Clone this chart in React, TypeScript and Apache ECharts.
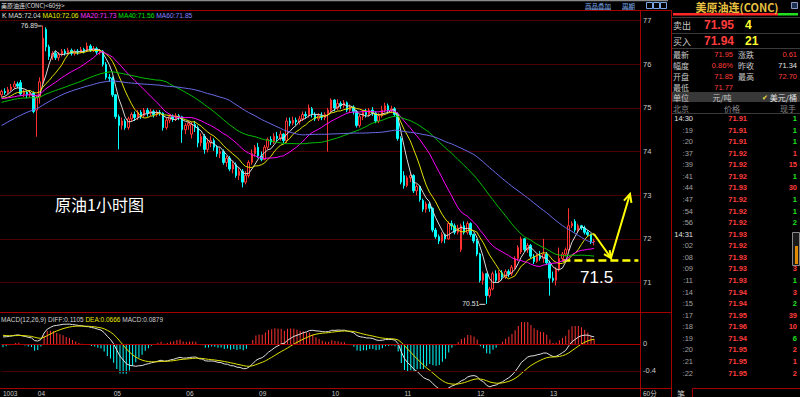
import React, { useEffect, useRef } from 'react';
import * as echarts from 'echarts';

// ---------------- data ----------------
const HEADER_TITLE = '美原油连(CONC)<60分>';
const PANEL_TITLE = '美原油连(CONC)';
const KLINE_LEGEND = ['K', 'MA5:72.04', 'MA10:72.06', 'MA20:71.73', 'MA40:71.56', 'MA60:71.85'];
const MACD_LEGEND = ['MACD(12,26,9) DIFF:0.1105', 'DEA:0.0666', 'MACD:0.0879'];
const MA_PERIODS = [5, 10, 20, 40, 60];

// closes before the first visible bar (needed for the moving averages / MACD)
const PRIOR_CLOSES = [
  72.9, 73.0, 72.95, 73.1, 73.2, 73.15, 73.3, 73.25, 73.4, 73.5,
  73.45, 73.6, 73.55, 73.7, 73.75, 73.8, 73.7, 73.9, 74.0, 74.1,
  74.4, 74.6, 74.7, 74.8, 74.9, 75.0, 74.95, 75.1, 75.2, 75.1,
  75.05, 75.2, 75.15, 75.1, 75.0, 75.05, 75.1, 75.2, 75.15, 75.25,
  75.3, 75.2, 75.15, 75.25, 75.3, 75.2, 75.1, 75.15, 75.2, 75.25,
  75.2, 75.3, 75.25, 75.15, 75.1, 75.2, 75.25, 75.2, 75.15, 75.25,
];

// hourly bars: [open, close, low, high]
const BARS: number[][] = [
  [75.30, 75.38, 75.25, 75.42], [75.38, 75.35, 75.30, 75.45], [75.35, 75.42, 75.32, 75.48], [75.42, 75.48, 75.38, 75.55],
  [75.48, 75.55, 75.44, 75.62], [75.55, 75.50, 75.45, 75.60], [75.58, 75.32, 75.28, 75.64], [75.32, 75.36, 75.25, 75.42],
  [75.36, 75.30, 75.22, 75.40], [75.30, 75.34, 75.24, 75.40], [75.34, 74.92, 74.88, 75.38], [74.95, 75.25, 74.34, 75.30],
  [75.25, 75.60, 75.10, 75.70], [75.60, 76.60, 75.50, 76.89], [76.80, 76.40, 76.30, 76.85], [76.40, 76.18, 76.10, 76.45],
  [76.18, 76.25, 76.10, 76.30], [76.25, 76.15, 76.10, 76.30], [76.15, 76.22, 76.08, 76.28], [76.22, 76.30, 76.18, 76.35],
  [76.30, 76.26, 76.20, 76.35], [76.26, 76.32, 76.22, 76.38], [76.32, 76.25, 76.20, 76.36], [76.25, 76.30, 76.20, 76.34],
  [76.30, 76.28, 76.22, 76.35], [76.28, 76.34, 76.25, 76.40], [76.34, 76.30, 76.25, 76.38], [76.30, 76.42, 76.28, 76.50],
  [76.42, 76.32, 76.28, 76.46], [76.32, 76.36, 76.28, 76.42], [76.36, 76.28, 76.22, 76.40], [76.28, 76.30, 76.22, 76.35],
  [76.30, 76.00, 75.95, 76.33], [76.00, 75.70, 75.65, 76.05], [75.70, 75.68, 75.60, 75.78], [75.68, 75.30, 75.25, 75.72],
  [75.30, 74.80, 74.75, 75.32], [74.80, 74.60, 74.05, 74.85], [74.60, 74.70, 74.50, 74.78], [74.70, 74.55, 74.50, 74.75],
  [74.55, 74.75, 74.50, 74.80], [74.75, 74.85, 74.68, 74.90], [74.85, 74.78, 74.70, 74.92], [74.78, 74.90, 74.72, 74.95],
  [74.90, 74.82, 74.75, 74.95], [74.82, 74.95, 74.78, 75.00], [74.95, 74.88, 74.80, 75.00], [74.88, 74.92, 74.82, 74.98],
  [74.92, 74.85, 74.78, 74.96], [74.85, 74.90, 74.80, 74.95], [74.90, 74.88, 74.82, 74.95], [74.88, 74.55, 74.48, 74.90],
  [74.55, 74.72, 74.50, 74.78], [74.72, 74.80, 74.65, 74.85], [74.80, 74.75, 74.68, 74.85], [74.75, 74.82, 74.70, 74.88],
  [74.82, 74.80, 74.72, 74.86], [74.80, 74.50, 74.20, 74.82], [74.50, 74.60, 74.40, 74.65], [74.60, 74.65, 74.50, 74.70],
  [74.40, 74.62, 74.30, 74.68], [74.62, 74.55, 74.45, 74.70], [74.55, 74.20, 74.10, 74.60], [74.20, 74.35, 74.12, 74.42],
  [74.35, 74.05, 73.95, 74.40], [74.05, 74.20, 73.98, 74.30], [74.20, 74.25, 74.10, 74.35], [74.25, 74.10, 74.02, 74.30],
  [74.10, 73.95, 73.88, 74.15], [73.95, 74.00, 73.85, 74.08], [74.00, 73.75, 73.70, 74.05], [73.75, 73.85, 73.65, 73.90],
  [73.85, 73.60, 73.55, 73.90], [73.60, 73.70, 73.50, 73.78], [73.70, 73.45, 73.40, 73.75], [73.45, 73.55, 73.35, 73.62],
  [73.55, 73.30, 73.18, 73.60], [73.30, 73.45, 73.25, 73.55], [73.45, 73.75, 73.40, 73.80], [73.75, 73.95, 73.70, 74.05],
  [73.95, 74.10, 73.88, 74.15], [74.10, 73.90, 73.85, 74.20], [73.90, 73.82, 73.78, 74.00], [73.82, 74.10, 73.80, 74.15],
  [74.10, 74.28, 74.05, 74.32], [74.28, 74.22, 74.15, 74.35], [74.22, 74.35, 74.18, 74.42], [74.35, 74.30, 74.22, 74.45],
  [74.30, 74.40, 74.25, 74.48], [74.40, 74.25, 74.20, 74.42], [74.25, 74.70, 74.20, 74.78], [74.70, 74.65, 74.58, 74.78],
  [74.65, 74.72, 74.60, 74.80], [74.72, 74.68, 74.60, 74.78], [74.68, 74.75, 74.62, 74.82], [74.75, 74.85, 74.70, 74.92],
  [74.85, 74.82, 74.75, 74.92], [74.82, 75.00, 74.78, 75.08], [74.98, 74.85, 74.78, 75.02], [74.85, 74.75, 74.70, 74.90],
  [74.75, 74.82, 74.70, 74.88], [74.82, 74.78, 74.72, 74.90], [74.78, 74.85, 74.72, 74.90], [74.85, 74.95, 74.00, 75.00],
  [74.95, 75.18, 74.90, 75.22], [75.18, 75.00, 74.92, 75.20], [75.00, 75.10, 74.95, 75.20], [75.10, 75.05, 74.98, 75.15],
  [75.05, 75.12, 75.00, 75.18], [75.12, 74.95, 74.90, 75.15], [74.95, 75.02, 74.90, 75.08], [75.02, 74.92, 74.85, 75.06],
  [74.92, 74.60, 74.55, 74.95], [74.60, 74.80, 74.55, 74.85], [74.80, 74.90, 74.72, 74.95], [74.90, 74.85, 74.78, 74.98],
  [74.85, 74.95, 74.80, 75.00], [74.95, 74.88, 74.82, 75.02], [74.88, 74.70, 74.65, 74.92], [74.70, 74.82, 74.65, 74.88],
  [74.82, 74.95, 74.78, 75.05], [74.95, 75.05, 74.90, 75.12], [75.05, 74.95, 74.88, 75.10], [74.95, 74.98, 74.88, 75.05],
  [74.98, 74.85, 74.80, 75.02], [74.85, 74.30, 74.25, 74.90], [74.30, 73.30, 73.25, 74.35], [73.45, 73.22, 73.15, 73.55],
  [73.22, 73.40, 73.18, 73.45], [73.40, 73.45, 73.30, 73.50], [73.45, 73.10, 73.05, 73.48], [73.10, 73.20, 73.00, 73.25],
  [73.20, 72.90, 72.85, 73.22], [72.88, 72.68, 72.62, 72.92], [72.68, 72.80, 72.60, 72.85], [72.80, 72.70, 72.62, 72.85],
  [72.70, 72.20, 72.15, 72.72], [72.20, 72.05, 72.00, 72.25], [72.05, 71.95, 71.88, 72.10], [71.95, 72.10, 71.90, 72.15],
  [72.10, 72.00, 71.90, 72.12], [72.00, 72.35, 71.98, 72.40], [72.35, 72.30, 72.20, 72.42], [72.30, 72.15, 72.10, 72.35],
  [72.15, 72.25, 72.10, 72.32], [71.75, 72.30, 71.70, 72.35], [72.30, 72.15, 72.10, 72.40], [72.15, 72.35, 72.10, 72.40],
  [72.35, 72.10, 72.05, 72.38], [72.10, 71.95, 71.90, 72.12], [71.95, 71.65, 71.60, 72.00], [71.65, 71.05, 71.00, 71.68],
  [71.05, 71.20, 70.95, 71.25], [71.20, 70.70, 70.51, 71.22], [70.70, 70.85, 70.65, 70.90], [70.85, 71.20, 70.82, 71.25],
  [71.20, 71.05, 71.00, 71.28], [71.05, 71.22, 71.00, 71.28], [71.22, 71.12, 71.05, 71.28], [71.12, 71.25, 71.08, 71.30],
  [71.25, 71.20, 71.12, 71.30], [71.20, 71.35, 71.15, 71.40], [71.35, 71.55, 71.30, 71.60], [71.55, 71.80, 71.50, 71.85],
  [71.70, 72.00, 71.65, 72.05], [72.00, 71.75, 71.70, 72.02], [71.75, 71.85, 71.68, 71.90], [71.85, 71.60, 71.55, 71.88],
  [71.60, 71.48, 71.42, 71.65], [71.48, 71.60, 71.45, 71.65], [71.60, 71.55, 71.50, 71.72], [71.55, 71.65, 71.45, 72.00],
  [71.65, 71.45, 71.40, 71.70], [71.45, 71.10, 70.70, 71.50], [71.10, 71.05, 71.00, 71.25], [71.05, 71.30, 70.93, 71.35],
  [71.30, 71.55, 71.25, 71.80], [71.55, 71.65, 71.50, 71.70], [71.65, 71.75, 71.60, 71.80], [71.75, 72.30, 71.70, 72.70],
  [72.30, 72.35, 72.25, 72.40], [72.40, 72.20, 72.15, 72.45], [72.20, 72.30, 72.15, 72.35], [72.30, 72.25, 72.20, 72.32],
  [72.25, 72.15, 72.10, 72.30], [72.15, 72.10, 72.05, 72.20], [72.10, 71.93, 71.88, 72.12], [71.93, 71.95, 71.85, 72.00],
];

const DAY_INDEX = [0, 11, 35, 58, 81, 104, 127, 150, 173];
const DAY_TEXT = ['1003', '04', '05', '06', '09', '10', '11', '12', '13'];
const PERIOD_LABEL = '60分';
const PRICE_TICKS = [71, 72, 73, 74, 75, 76, 77];
const MACD_TICKS = [0, -0.4];
const SUPPORT_LEVEL = 71.5;
const SUPPORT_TEXT = '71.5';
const CHART_NOTE = '原油1小时图';

const ASK_ROW = ['卖出', '71.95', '4'];
const BID_ROW = ['买入', '71.94', '21'];
const QUOTE_ROWS = [
  ['最新', '71.95', '涨跌', '0.61'],
  ['幅度', '0.86%', '昨收', '71.34'],
  ['开盘', '71.85', '最高', '72.70'],
  ['最低', '71.77', '', ''],
];
const UNIT_ROW = ['单位', '元/吨', '✔', '美元/桶'];
const TRADE_HEADER = ['北京', '价格', '现手'];
const TRADE_TIMES = ['14:30', ':19', ':20', ':37', ':39', ':41', ':44', ':47', ':54', ':56', '14:31', ':02', ':08', ':09', ':11', ':14', ':15', ':17', ':18', ':19', ':20', ':21', ':22'];
const TRADE_PRICES = ['71.91', '71.91', '71.91', '71.92', '71.92', '71.92', '71.93', '71.92', '71.92', '71.92', '71.93', '71.92', '71.93', '71.93', '71.93', '71.94', '71.94', '71.95', '71.96', '71.94', '71.95', '71.95', '71.95'];
const TRADE_VOLS = ['1', '1', '1', '1', '15', '1', '30', '1', '1', '2', '', '', '', '3', '1', '3', '2', '39', '10', '6', '2', '1', '2'];
const TRADE_SIDES = ['b', 'b', 'b', 's', 's', 'b', 's', 'b', 'b', 'b', '', '', '', 's', 'b', 's', 'b', 's', 's', 'b', 's', 's', 's'];

// ---------------- styles ----------------
const FONT = '"Liberation Sans", Arial, "Noto Sans CJK SC", sans-serif';
const CJK = '"Noto Sans CJK SC", "Liberation Sans", sans-serif';
const RED = '#ff3232';
const CYAN = '#00ffff';
const FRAME = '#a80000';
const GRID_RED = '#4a0000';
const MA_COLORS = ['#d8d8d8', '#e0e000', '#ff00ff', '#00c000', '#6a6ae8'];
const LEGEND_COLORS = ['#e8e8e8', '#d8d8d8', '#e8e800', '#ff30ff', '#00e000', '#8080ff'];
const MACD_LEGEND_COLORS = ['#d0d0d0', '#e8e800', '#d0d0d0'];

const PLOT_W = 640;
const CAT_COUNT = BARS.length + 14;
const PRICE_MIN = 70.323;
const PRICE_MAX = 77.222;
const MACD_MIN = -0.652;
const MACD_MAX = 0.459;

function txt(x: number, y: number, text: string, fill: string, size: number, o: any = {}) {
  return {
    type: 'text', x, y, silent: true, z: 100,
    style: {
      text, fill, fontSize: size, fontFamily: o.font || FONT, fontWeight: o.bold ? 'bold' : 'normal',
      align: o.align || 'left', textAlign: o.align || 'left', verticalAlign: 'middle', textVerticalAlign: 'middle',
    },
  };
}
function richLine(x: number, y: number, parts: string[], colors: string[], size: number) {
  const rich: any = {};
  parts.forEach((_, i) => { rich['p' + i] = { fill: colors[i], color: colors[i], fontSize: size, fontFamily: FONT }; });
  return {
    type: 'text', x, y, silent: true, z: 100,
    style: {
      text: parts.map((p, i) => `{p${i}|${p}}`).join(' '),
      rich, fontSize: size, fontFamily: FONT, fill: colors[0],
      align: 'left', textAlign: 'left', verticalAlign: 'middle', textVerticalAlign: 'middle',
    },
  };
}
function ln(x1: number, y1: number, x2: number, y2: number, stroke: string, lw = 1, dash?: number[]) {
  return { type: 'line', silent: true, z: 90, shape: { x1, y1, x2, y2 }, style: { stroke, lineWidth: lw, lineDash: dash } };
}
function rc(x: number, y: number, w: number, h: number, fill: string, stroke?: string) {
  return { type: 'rect', silent: true, z: 80, shape: { x, y, width: w, height: h }, style: { fill, stroke, lineWidth: 1 } };
}
function arrowHead(tip: number[], from: number[], len: number, color: string) {
  const dx = tip[0] - from[0];
  const dy = tip[1] - from[1];
  const d = Math.hypot(dx, dy);
  const ux = dx / d, uy = dy / d;
  const a = Math.PI / 7;
  const w1 = [tip[0] - len * (ux * Math.cos(a) - uy * Math.sin(a)), tip[1] - len * (uy * Math.cos(a) + ux * Math.sin(a))];
  const w2 = [tip[0] - len * (ux * Math.cos(-a) - uy * Math.sin(-a)), tip[1] - len * (uy * Math.cos(-a) + ux * Math.sin(-a))];
  return { type: 'polyline', silent: true, z: 95, shape: { points: [w1, tip, w2] }, style: { stroke: color, lineWidth: 2, fill: null } };
}

// ---------------- indicators ----------------
const ALL_CLOSES = [...PRIOR_CLOSES, ...BARS.map((b) => b[1])];
const P = PRIOR_CLOSES.length;
function movingAverage(n: number) {
  return BARS.map((_, i) => {
    const end = P + i;
    let s = 0;
    for (let k = end - n + 1; k <= end; k++) s += ALL_CLOSES[k];
    return +(s / n).toFixed(3);
  });
}
function macd() {
  let e12 = ALL_CLOSES[0];
  let e26 = ALL_CLOSES[0];
  let dea = 0;
  const diff: number[] = [], deaArr: number[] = [], bar: number[] = [];
  ALL_CLOSES.forEach((c, k) => {
    if (k > 0) {
      e12 = (e12 * 11 + c * 2) / 13;
      e26 = (e26 * 25 + c * 2) / 27;
    }
    const d = e12 - e26;
    dea = (dea * 8 + d * 2) / 10;
    if (k >= P) {
      diff.push(+d.toFixed(4));
      deaArr.push(+dea.toFixed(4));
      bar.push(+(2 * (d - dea)).toFixed(4));
    }
  });
  return { diff, dea: deaArr, bar };
}

function staticGraphics() {
  const g: any[] = [];
  // header
  g.push(ln(0, 0.5, 668, 0.5, '#8a8a8a', 1.5));
  g.push(txt(1, 5.5, HEADER_TITLE, '#e0e0e0', 6, { font: CJK }));
  g.push(txt(585, 5.5, '商品叠加', '#7aa6e6', 6.5, { font: CJK }));
  g.push(ln(585, 9, 611, 9, '#7aa6e6', 0.8));
  g.push(txt(622, 5.5, '周期', '#7aa6e6', 6.5, { font: CJK }));
  g.push(ln(622, 9, 633, 9, '#7aa6e6', 0.8));
  [646, 653, 660].forEach((x) => g.push(rc(x + 0.5, 2.5, 6, 6, 'none', '#7aa6e6')));
  // frame lines
  g.push(ln(0, 10.5, 672, 10.5, FRAME, 1));
  g.push(ln(0, 312.5, 672, 312.5, FRAME, 1));
  g.push(ln(0, 388.5, 672, 388.5, FRAME, 1));
  g.push(ln(640.5, 10, 640.5, 397, FRAME, 1));
  g.push(ln(671.5, 10, 671.5, 397, FRAME, 1));
  // legends
  g.push(richLine(2, 15.5, KLINE_LEGEND, LEGEND_COLORS, 6.7));
  g.push(richLine(1, 319, MACD_LEGEND, MACD_LEGEND_COLORS, 6.5));
  g.push(txt(643, 392.5, PERIOD_LABEL, '#c8c8c8', 6.5, { font: CJK }));
  // annotations
  g.push(txt(55, 203.5, CHART_NOTE, '#ffffff', 16, { font: CJK }));
  g.push(txt(580, 277.5, SUPPORT_TEXT, '#ffffff', 17));
  const a0 = [594, 234], a1 = [611, 258], a2 = [630, 194];
  g.push({ type: 'polyline', silent: true, z: 95, shape: { points: [a0, a1, a2] }, style: { stroke: '#ffff00', lineWidth: 2, fill: null } });
  g.push(arrowHead(a1, a0, 8, '#ffff00'));
  g.push(arrowHead(a2, a1, 9, '#ffff00'));

  // ---------- right panel ----------
  g.push(txt(737, 7, PANEL_TITLE, '#e8c040', 11, { font: CJK, bold: true, align: 'center' }));
  g.push(rc(791.5, 2.5, 6, 6, '#203050', '#8898c0'));
  g.push(rc(673, 13, 105, 2.5, '#ff2828'));
  g.push(rc(778, 13, 20, 2.5, '#20e020'));
  [17.5, 33.5, 48.5, 113.5].forEach((y) => g.push(ln(672, y, 800, y, '#3a3a3a', 1)));
  [[ASK_ROW, 25], [BID_ROW, 41]].forEach(([row, y]: any) => {
    g.push(txt(673, y, row[0], '#c8c8c8', 9, { font: CJK }));
    g.push(txt(734, y, row[1], '#ff3c3c', 12, { bold: true, align: 'right' }));
    g.push(txt(745, y, row[2], '#ffff30', 12, { bold: true }));
  });
  QUOTE_ROWS.forEach((row, i) => {
    const y = 54.5 + i * 11;
    g.push(txt(673, y, row[0], '#c8c8c8', 8, { font: CJK }));
    g.push(txt(733, y, row[1], '#ff3c3c', 7.5, { align: 'right' }));
    if (row[2]) {
      g.push(txt(738, y, row[2], '#c8c8c8', 8, { font: CJK }));
      g.push(txt(797, y, row[3], row[2] === '昨收' ? '#e0e0e0' : '#ff3c3c', 7.5, { align: 'right' }));
    }
  });
  g.push(rc(672, 92, 128, 10, '#383838'));
  g.push(txt(673, 97, UNIT_ROW[0], '#c8c8c8', 8, { font: CJK }));
  g.push(txt(722, 97, UNIT_ROW[1], '#c8c8c8', 8, { font: CJK, align: 'center' }));
  g.push(txt(762, 97, UNIT_ROW[2], '#f0e040', 7, { font: CJK }));
  g.push(txt(797, 97, UNIT_ROW[3], '#e0e0e0', 8, { font: CJK, align: 'right' }));
  g.push(txt(673, 108.5, TRADE_HEADER[0], '#8a8a8a', 8, { font: CJK }));
  g.push(txt(732, 108.5, TRADE_HEADER[1], '#8a8a8a', 8, { font: CJK, align: 'center' }));
  g.push(txt(796, 108.5, TRADE_HEADER[2], '#8a8a8a', 8, { font: CJK, align: 'right' }));
  TRADE_TIMES.forEach((tm, i) => {
    const y = 118.5 + i * 11.57;
    g.push(txt(693, y, tm, tm.length > 3 ? '#e0e0e0' : '#a0a0a0', 7.5, { align: 'right' }));
    g.push(txt(747, y, TRADE_PRICES[i], '#ff3c3c', 7.5, { bold: true, align: 'right' }));
    if (TRADE_VOLS[i]) {
      g.push(txt(797, y, TRADE_VOLS[i], TRADE_SIDES[i] === 's' ? '#ff3c3c' : '#20e020', 7.5, { bold: true, align: 'right' }));
    }
  });
  // scroll widget
  g.push(rc(792.5, 232.5, 7, 33, '#1a1a1a', '#8a8a8a'));
  g.push(rc(795, 246, 3, 18, '#e08a00'));
  // bottom tab
  g.push(txt(677, 393, '笔', '#c8c8c8', 8, { font: CJK }));
  g.push(ln(692.5, 388.5, 800, 388.5, FRAME, 1));
  g.push(ln(692.5, 388.5, 692.5, 397, FRAME, 1));
  return g;
}

function buildOption() {
  const cats = Array.from({ length: CAT_COUNT }, (_, i) => String(i));
  const mas = MA_PERIODS.map((n) => movingAverage(n));
  const m = macd();
  const gridMarks: any[] = PRICE_TICKS.map((v) => ({ yAxis: v, lineStyle: { color: GRID_RED, type: 'solid', width: 1 } }));
  const supportStart = BARS.length - 11;
  gridMarks.push([
    { xAxis: supportStart, yAxis: SUPPORT_LEVEL, lineStyle: { color: '#ffff00', type: [8, 4], width: 2.5 } },
    { xAxis: CAT_COUNT - 1, yAxis: SUPPORT_LEVEL },
  ]);
  return {
    animation: false,
    backgroundColor: '#000000',
    grid: [
      { left: 0, top: 11, width: PLOT_W, height: 301 },
      { left: 0, top: 313, width: PLOT_W, height: 75 },
    ],
    xAxis: [
      {
        type: 'category', gridIndex: 0, data: cats, boundaryGap: true,
        axisLine: { show: false }, axisTick: { show: false }, axisLabel: { show: false }, splitLine: { show: false },
      },
      {
        type: 'category', gridIndex: 1, data: cats, boundaryGap: true,
        axisLine: { show: false }, axisTick: { show: false }, splitLine: { show: false },
        axisLabel: {
          show: true, color: '#c8c8c8', fontSize: 6.5, fontFamily: FONT, align: 'left', margin: 2,
          interval: (idx: number) => DAY_INDEX.indexOf(idx) >= 0,
          formatter: (_v: string, idx: number) => DAY_TEXT[DAY_INDEX.indexOf(idx)] || '',
        },
      },
    ],
    yAxis: [
      {
        type: 'value', gridIndex: 0, position: 'right', min: PRICE_MIN, max: PRICE_MAX,
        axisLine: { show: false }, axisTick: { show: false, customValues: PRICE_TICKS }, splitLine: { show: false },
        axisLabel: { customValues: PRICE_TICKS, color: '#c8c8c8', fontSize: 7.5, fontFamily: FONT, margin: 3 },
      },
      {
        type: 'value', gridIndex: 1, position: 'right', min: MACD_MIN, max: MACD_MAX,
        axisLine: { show: false }, axisTick: { show: false, customValues: MACD_TICKS }, splitLine: { show: false },
        axisLabel: { customValues: MACD_TICKS, color: '#c8c8c8', fontSize: 7.5, fontFamily: FONT, margin: 3 },
      },
    ],
    series: [
      {
        type: 'candlestick', xAxisIndex: 0, yAxisIndex: 0, data: BARS, barWidth: 2,
        itemStyle: { color: '#000000', color0: CYAN, borderColor: RED, borderColor0: CYAN, borderWidth: 1 },
        markLine: { silent: true, symbol: 'none', label: { show: false }, data: gridMarks, z: 1 },
        z: 2,
      },
      ...mas.map((d, i) => ({
        type: 'line', xAxisIndex: 0, yAxisIndex: 0, data: d, showSymbol: false, symbol: 'none',
        lineStyle: { color: MA_COLORS[i], width: 1 }, z: 3,
      })),
      {
        type: 'bar', xAxisIndex: 1, yAxisIndex: 1, data: m.bar, barWidth: 1,
        itemStyle: { color: (p: any) => (p.value >= 0 ? RED : CYAN) },
        markLine: {
          silent: true, symbol: 'none', label: { show: false },
          data: [
            { yAxis: MACD_TICKS[0], lineStyle: { color: '#b00000', type: 'solid', width: 1 } },
            { yAxis: MACD_TICKS[1], lineStyle: { color: GRID_RED, type: 'solid', width: 1 } },
          ],
        },
      },
      { type: 'line', xAxisIndex: 1, yAxisIndex: 1, data: m.diff, showSymbol: false, symbol: 'none', lineStyle: { color: '#e0e0e0', width: 1 }, z: 3 },
      { type: 'line', xAxisIndex: 1, yAxisIndex: 1, data: m.dea, showSymbol: false, symbol: 'none', lineStyle: { color: '#e0e000', width: 1 }, z: 3 },
    ],
  };
}

export default function App() {
  const ref = useRef<HTMLDivElement>(null);
  useEffect(() => {
    if (!ref.current) return;
    const chart = echarts.init(ref.current, null, { renderer: 'svg' });
    chart.setOption(buildOption() as any);
    // extreme labels
    let hiI = 0, loI = 0;
    BARS.forEach((b, i) => {
      if (b[3] > BARS[hiI][3]) hiI = i;
      if (b[2] < BARS[loI][2]) loI = i;
    });
    const hi = chart.convertToPixel({ gridIndex: 0 } as any, [hiI, BARS[hiI][3]]) as number[];
    const lo = chart.convertToPixel({ gridIndex: 0 } as any, [loI, BARS[loI][2]]) as number[];
    const g = staticGraphics();
    g.push(txt(hi[0] - 5, hi[1], BARS[hiI][3].toFixed(2), '#e0e0e0', 6.8, { align: 'right' }));
    g.push(ln(hi[0] - 5, hi[1] + 0.5, hi[0] - 1, hi[1] + 0.5, '#e0e0e0', 1));
    g.push(txt(lo[0] - 7, lo[1], BARS[loI][2].toFixed(2), '#e0e0e0', 6.8, { align: 'right' }));
    g.push(ln(lo[0] - 7, lo[1] + 0.5, lo[0] - 1, lo[1] + 0.5, '#e0e0e0', 1));
    chart.setOption({ graphic: g } as any);
    return () => chart.dispose();
  }, []);
  return <div ref={ref} style={{ position: 'fixed', left: 0, top: 0, width: 800, height: 397, background: '#000' }} />;
}
